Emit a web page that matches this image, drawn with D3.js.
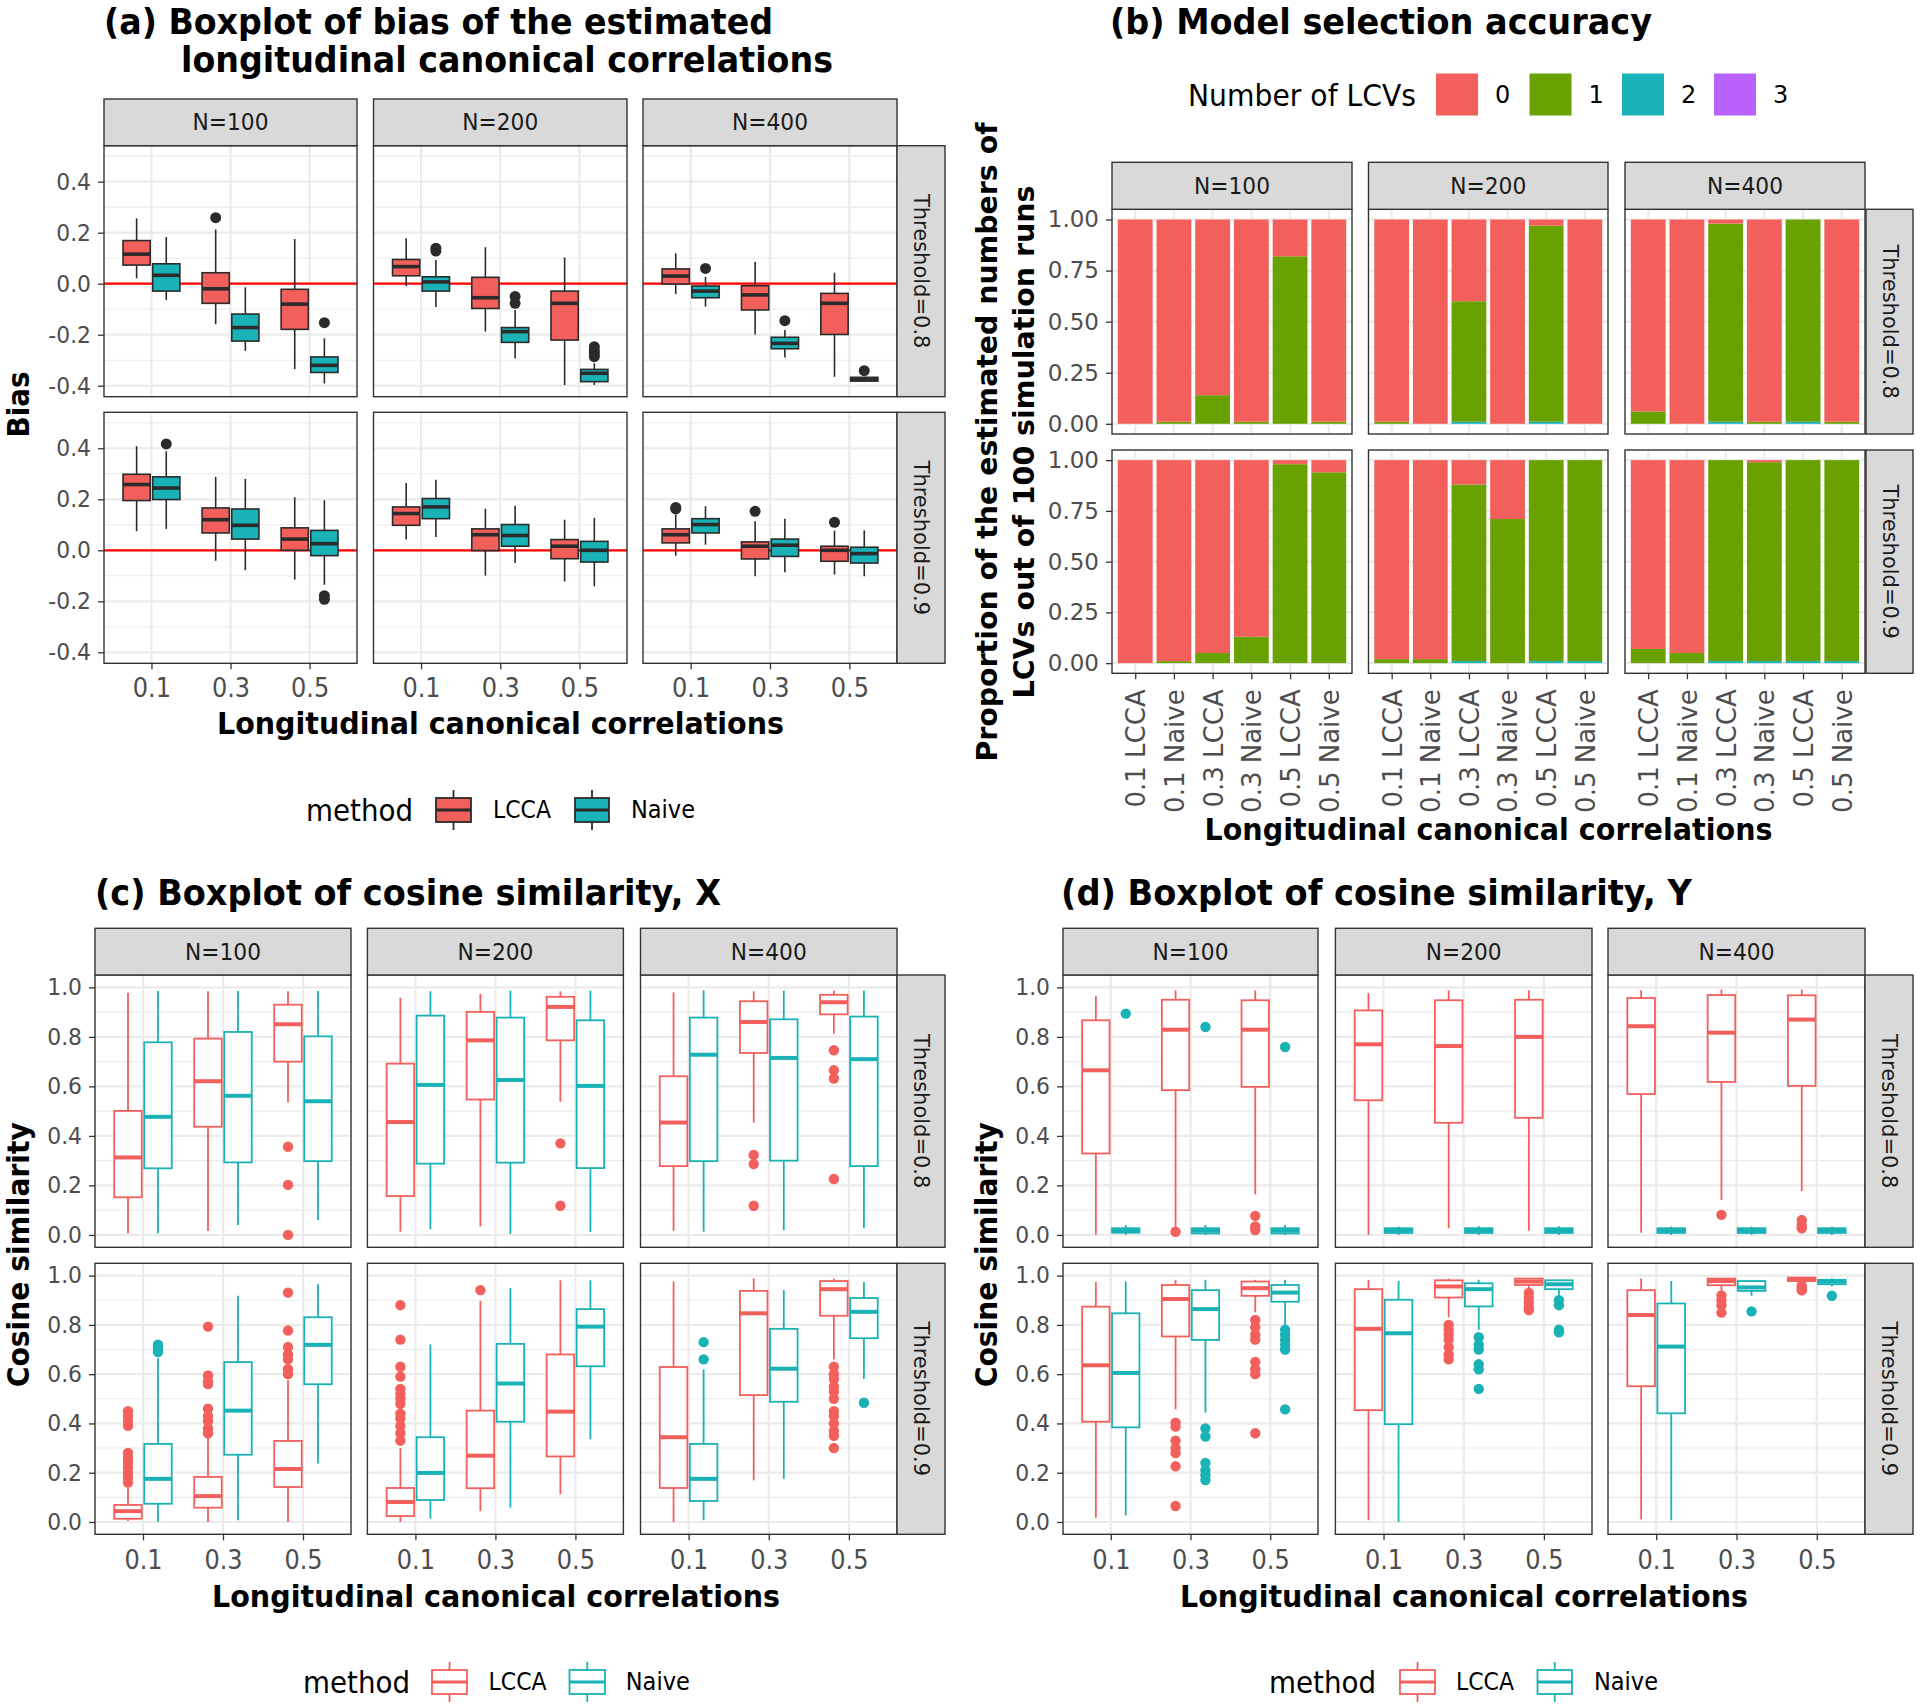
<!DOCTYPE html>
<html><head><meta charset="utf-8">
<script src="https://cdn.jsdelivr.net/npm/d3@7"></script>
<style>body{margin:0;background:#fff}</style>
</head><body><svg id="c" width="1920" height="1707" xmlns="http://www.w3.org/2000/svg"></svg>
<script>
// ---------------- DATA ----------------
const nLabels = ["N=100", "N=200", "N=400"];
const thrLabels = ["Threshold=0.8", "Threshold=0.9"];
const corrLabels = ["0.1", "0.3", "0.5"];
const methods = ["LCCA", "Naive"];
const lcvLevels = ["0", "1", "2", "3"];
const selCategories = ["0.1 LCCA", "0.1 Naive", "0.3 LCCA", "0.3 Naive", "0.5 LCCA", "0.5 Naive"];

const biasTicks = [-0.4, -0.2, 0, 0.2, 0.4];
const biasMinor = [-0.3, -0.1, 0.1, 0.3, 0.5];
const cosTicks = [0, 0.2, 0.4, 0.6, 0.8, 1.0];
const cosMinor = [0.1, 0.3, 0.5, 0.7, 0.9];
const propTicks = [0, 0.25, 0.5, 0.75, 1];
const propMinor = [0.125, 0.375, 0.625, 0.875];

// box stats: [lower whisker, Q1, median, Q3, upper whisker, outliers]
// per N (100, 200, 400): 0.1 LCCA, 0.1 Naive, 0.3 LCCA, 0.3 Naive, 0.5 LCCA, 0.5 Naive
const biasT08 = [
  [[0.021,0.073,0.116,0.169,0.256,[]], [-0.064,-0.029,0.033,0.078,0.183,[]], [-0.159,-0.077,-0.020,0.043,0.213,[0.259]],
   [-0.263,-0.225,-0.172,-0.119,-0.014,[]], [-0.335,-0.179,-0.080,-0.022,0.175,[]], [-0.391,-0.348,-0.320,-0.287,-0.214,[-0.153]]],
  [[-0.009,0.031,0.067,0.095,0.178,[]], [-0.091,-0.029,0.007,0.027,0.093,[0.128,0.139]], [-0.188,-0.097,-0.055,0.025,0.143,[]],
   [-0.293,-0.230,-0.188,-0.172,-0.103,[-0.077,-0.050]], [-0.397,-0.221,-0.077,-0.029,0.103,[]], [-0.397,-0.384,-0.351,-0.336,-0.312,[-0.247,-0.262,-0.275,-0.286]]],
  [[-0.040,-0.001,0.030,0.058,0.119,[]], [-0.090,-0.055,-0.029,-0.009,0.027,[0.060]], [-0.199,-0.103,-0.044,-0.008,0.086,[]],
   [-0.289,-0.255,-0.234,-0.210,-0.182,[-0.145]], [-0.365,-0.199,-0.077,-0.038,0.043,[]], [-0.384,-0.382,-0.374,-0.367,-0.365,[-0.341]]]
];
const biasT09 = [
  [[0.075,0.195,0.258,0.298,0.408,[]], [0.084,0.199,0.244,0.288,0.388,[0.417]], [-0.041,0.068,0.120,0.166,0.288,[]],
   [-0.078,0.044,0.098,0.162,0.280,[]], [-0.115,0.000,0.044,0.088,0.208,[]], [-0.135,-0.021,0.026,0.078,0.196,[-0.178,-0.192]]],
  [[0.042,0.098,0.144,0.170,0.264,[]], [0.052,0.124,0.170,0.203,0.277,[]], [-0.099,-0.001,0.061,0.084,0.163,[]],
   [-0.050,0.016,0.058,0.101,0.175,[]], [-0.122,-0.033,0.016,0.042,0.120,[]], [-0.141,-0.046,0.000,0.035,0.127,[]]],
  [[-0.021,0.029,0.061,0.084,0.140,[0.162,0.168]], [0.022,0.068,0.101,0.124,0.173,[]], [-0.102,-0.034,0.016,0.033,0.114,[0.153]],
   [-0.086,-0.024,0.020,0.044,0.124,[]], [-0.095,-0.043,0.000,0.016,0.077,[0.110]], [-0.102,-0.050,-0.013,0.012,0.078,[]]]
];

const cosXT08 = [
  [[0.007,0.152,0.313,0.501,0.978,[]], [0.007,0.269,0.477,0.778,0.985,[]], [0.016,0.437,0.621,0.793,0.984,[]],
   [0.040,0.293,0.562,0.820,0.985,[]], [0.535,0.700,0.851,0.930,0.984,[0.356,0.202,0.000]], [0.060,0.298,0.540,0.802,0.985,[]]],
  [[0.013,0.157,0.456,0.692,0.958,[]], [0.023,0.288,0.606,0.886,0.984,[]], [0.034,0.547,0.786,0.901,0.974,[]],
   [0.004,0.292,0.626,0.878,0.987,[]], [0.538,0.786,0.921,0.962,0.984,[0.370,0.118]], [0.012,0.270,0.602,0.867,0.987,[]]],
  [[0.017,0.278,0.454,0.641,0.980,[]], [0.013,0.298,0.728,0.878,0.988,[]], [0.454,0.735,0.860,0.944,0.984,[0.323,0.286,0.118]],
   [0.019,0.300,0.715,0.871,0.987,[]], [0.813,0.891,0.940,0.970,0.987,[0.746,0.665,0.632,0.226]], [0.027,0.278,0.710,0.882,0.987,[]]]
];
const cosXT09 = [
  [[0.004,0.013,0.044,0.069,0.140,[0.45,0.43,0.41,0.39,0.28,0.26,0.24,0.22,0.20,0.18,0.16]],
   [0.000,0.074,0.175,0.317,0.665,[0.69,0.70,0.71,0.72]],
   [0.000,0.058,0.105,0.183,0.350,[0.793,0.595,0.57,0.56,0.46,0.43,0.41,0.38,0.36]],
   [0.007,0.273,0.452,0.649,0.918,[]],
   [0.000,0.142,0.215,0.329,0.575,[0.931,0.777,0.71,0.68,0.66,0.62,0.60]],
   [0.237,0.559,0.719,0.831,0.965,[]]],
  [[0.000,0.024,0.081,0.138,0.300,[0.33,0.36,0.39,0.42,0.44,0.48,0.50,0.52,0.54,0.59,0.63,0.74,0.88]],
   [0.013,0.089,0.199,0.344,0.720,[]],
   [0.044,0.137,0.269,0.452,0.898,[0.941]],
   [0.058,0.407,0.562,0.723,0.949,[]],
   [0.112,0.266,0.448,0.680,0.981,[]],
   [0.336,0.632,0.793,0.864,0.981,[]]],
  [[0.000,0.138,0.344,0.629,0.976,[]],
   [0.007,0.085,0.175,0.317,0.620,[0.66,0.73]],
   [0.169,0.515,0.847,0.938,0.989,[]],
   [0.175,0.488,0.622,0.784,0.941,[]],
   [0.660,0.837,0.945,0.978,0.988,[0.63,0.60,0.58,0.55,0.53,0.50,0.45,0.43,0.40,0.37,0.35,0.30]],
   [0.580,0.746,0.853,0.909,0.974,[0.484]]]
];

const cosYT08 = [
  [[0.000,0.329,0.665,0.867,0.965,[]], [0.000,0.009,0.019,0.027,0.040,[0.894]], [0.030,0.585,0.829,0.950,0.988,[0.013]],
   [0.000,0.006,0.017,0.027,0.040,[0.840]], [0.164,0.598,0.829,0.948,0.988,[0.077,0.034,0.020]], [0.000,0.006,0.017,0.027,0.040,[0.759]]],
  [[0.000,0.544,0.770,0.907,0.977,[]], [0.000,0.008,0.017,0.027,0.034,[]], [0.027,0.453,0.763,0.948,0.988,[]],
   [0.000,0.008,0.018,0.027,0.035,[]], [0.017,0.473,0.800,0.950,0.988,[]], [0.000,0.008,0.018,0.027,0.035,[]]],
  [[0.009,0.569,0.843,0.957,0.988,[]], [0.000,0.008,0.018,0.027,0.034,[]], [0.141,0.618,0.817,0.969,0.991,[0.081]],
   [0.000,0.008,0.018,0.027,0.034,[]], [0.177,0.602,0.870,0.968,0.991,[0.060,0.038,0.027]], [0.000,0.008,0.018,0.027,0.034,[]]]
];
const cosYT09 = [
  [[0.017,0.407,0.636,0.874,0.974,[]],
   [0.027,0.384,0.605,0.847,0.976,[]],
   [0.457,0.753,0.905,0.962,0.983,[0.403,0.387,0.33,0.30,0.28,0.226,0.065]],
   [0.444,0.739,0.864,0.941,0.983,[0.38,0.347,0.24,0.21,0.19,0.17]],
   [0.851,0.918,0.949,0.976,0.983,[0.82,0.79,0.76,0.74,0.65,0.62,0.60,0.36]],
   [0.797,0.894,0.931,0.962,0.983,[0.78,0.76,0.74,0.72,0.70,0.457]]],
  [[0.007,0.454,0.784,0.945,0.983,[]],
   [0.000,0.397,0.766,0.902,0.978,[]],
   [0.831,0.911,0.956,0.981,0.988,[0.80,0.78,0.76,0.74,0.71,0.68,0.66]],
   [0.780,0.875,0.945,0.969,0.983,[0.75,0.72,0.70,0.64,0.62,0.54]],
   [0.945,0.962,0.976,0.988,0.988,[0.93,0.91,0.89,0.87,0.86]],
   [0.918,0.945,0.965,0.981,0.983,[0.90,0.88,0.78,0.77]]],
  [[0.011,0.551,0.840,0.941,0.988,[]],
   [0.007,0.441,0.712,0.887,0.978,[]],
   [0.938,0.961,0.978,0.988,0.990,[0.92,0.90,0.88,0.85]],
   [0.918,0.938,0.952,0.978,0.983,[0.855]],
   [0.972,0.978,0.985,0.992,0.993,[0.96,0.95,0.94]],
   [0.956,0.965,0.976,0.983,0.989,[0.918]]]
];

// model selection: number of runs (out of 100) choosing 0,1,2,3 LCVs; per N: bars in selCategories order
const selT08 = [
  [[100,0,0,0], [99,1,0,0], [86,14,0,0], [99,1,0,0], [18,82,0,0], [99,1,0,0]],
  [[99,1,0,0], [100,0,0,0], [40,59,1,0], [100,0,0,0], [3,96,1,0], [100,0,0,0]],
  [[94,6,0,0], [100,0,0,0], [2,97,1,0], [99,1,0,0], [0,99,1,0], [99,1,0,0]]
];
const selT09 = [
  [[100,0,0,0], [99,1,0,0], [95,5,0,0], [87,13,0,0], [2,98,0,0], [6,94,0,0]],
  [[98,2,0,0], [98,2,0,0], [12,87,1,0], [29,71,0,0], [0,99,1,0], [0,99,1,0]],
  [[93,7,0,0], [95,5,0,0], [0,99,1,0], [1,98,1,0], [0,99,1,0], [0,99,1,0]]
];

// ---------------- STYLE ----------------
const FONT = "'DejaVu Sans', Verdana, sans-serif";
const methodColors = ["#F35F5B", "#19B2B6"];
const lcvColors = ["#F35F5B", "#69A100", "#19B2B6", "#B862FB"];
const DARK = "#2B2B2B", BORDER = "#333333", GRID = "#EBEBEB", STRIP = "#D9D9D9";
const svg = d3.select("#c");

function label(parent, s, x, y, o = {}) {
  const t = parent.append("text").attr("x", x).attr("y", y).text(s)
    .attr("font-family", o.family || FONT).attr("font-size", o.size || 22)
    .attr("fill", o.fill || "#000");
  if (o.weight) t.attr("font-weight", o.weight);
  if (o.anchor) t.attr("text-anchor", o.anchor);
  if (o.baseline) t.attr("dominant-baseline", o.baseline);
  if (o.len) t.attr("textLength", o.len).attr("lengthAdjust", "spacingAndGlyphs");
  if (o.rotate) t.attr("transform", `rotate(${o.rotate},${x},${y})`);
  return t;
}
function condense(sel, f) {
  sel.each(function () {
    const w = this.getComputedTextLength();
    d3.select(this).attr("textLength", w * f).attr("lengthAdjust", "spacingAndGlyphs");
  });
}

function facetGrid(L, cats, yDomain, yMajor, yMinor, yFmt, cell, opt = {}) {
  const g = svg.append("g");
  const nR = L.rows.length;
  L.rows.forEach((r, ri) => {
    const y = d3.scaleLinear().domain(yDomain).range([r[1], r[0]]);
    L.cols.forEach((c, ci) => {
      const x = d3.scalePoint().domain(cats).range(c).padding(0.6);
      const pg = g.append("g");
      pg.append("rect").attr("x", c[0]).attr("y", r[0]).attr("width", c[1] - c[0]).attr("height", r[1] - r[0]).attr("fill", "#fff");
      yMinor.forEach(v => pg.append("line").attr("x1", c[0]).attr("x2", c[1]).attr("y1", y(v)).attr("y2", y(v))
        .attr("stroke", GRID).attr("stroke-width", 1.1));
      yMajor.forEach(v => pg.append("line").attr("x1", c[0]).attr("x2", c[1]).attr("y1", y(v)).attr("y2", y(v))
        .attr("stroke", GRID).attr("stroke-width", 2.2));
      cats.forEach(k => pg.append("line").attr("x1", x(k)).attr("x2", x(k)).attr("y1", r[0]).attr("y2", r[1])
        .attr("stroke", GRID).attr("stroke-width", 2.2));
      cell(pg, x, y, ri, ci);
      pg.append("rect").attr("x", c[0]).attr("y", r[0]).attr("width", c[1] - c[0]).attr("height", r[1] - r[0])
        .attr("fill", "none").attr("stroke", BORDER).attr("stroke-width", 1.4);
      if (ci === 0) {
        const ax = g.append("g").attr("transform", `translate(${c[0]},0)`)
          .call(d3.axisLeft(y).tickValues(yMajor).tickFormat(yFmt).tickSize(6).tickPadding(7));
        ax.select(".domain").remove();
        ax.selectAll("line").attr("stroke", BORDER).attr("stroke-width", 1.3);
        const ty = ax.selectAll("text").attr("font-family", FONT).attr("font-size", 23).attr("fill", "#4D4D4D");
        condense(ty, opt.yCond || 0.95);
      }
      if (ri === nR - 1) {
        const ax = g.append("g").attr("transform", `translate(0,${r[1]})`)
          .call(d3.axisBottom(x).tickSize(6).tickPadding(opt.xPad || 9).tickFormat(opt.xFmt || (d => d)));
        ax.select(".domain").remove();
        ax.selectAll("line").attr("stroke", BORDER).attr("stroke-width", 1.3);
        const tx = ax.selectAll("text").attr("font-family", FONT).attr("font-size", opt.xSize || 27).attr("fill", "#4D4D4D");
        if (opt.rotX) {
          tx.attr("transform", "rotate(-90)").attr("text-anchor", "end")
            .attr("x", -(6 + (opt.xPad || 9))).attr("y", 0).attr("dy", "0.36em");
        } else {
          condense(tx, 0.89);
        }
      }
    });
    // right strip
    g.append("rect").attr("x", L.stripRight[0]).attr("y", r[0]).attr("width", L.stripRight[1] - L.stripRight[0])
      .attr("height", r[1] - r[0]).attr("fill", STRIP).attr("stroke", BORDER).attr("stroke-width", 1.4);
    label(g, thrLabels[ri], (L.stripRight[0] + L.stripRight[1]) / 2, (r[0] + r[1]) / 2,
      { size: 21, fill: "#1A1A1A", anchor: "middle", baseline: "central", rotate: 90 });
  });
  L.cols.forEach((c, ci) => {
    g.append("rect").attr("x", c[0]).attr("y", L.stripTop).attr("width", c[1] - c[0]).attr("height", L.rows[0][0] - L.stripTop)
      .attr("fill", STRIP).attr("stroke", BORDER).attr("stroke-width", 1.4);
    label(g, nLabels[ci], (c[0] + c[1]) / 2, (L.stripTop + L.rows[0][0]) / 2,
      { size: 23, fill: "#1A1A1A", anchor: "middle", baseline: "central", len: 76 });
  });
}

function boxCell(dataRows, filled, zeroLine) {
  return (pg, x, y, ri, ci) => {
    if (zeroLine) {
      pg.append("line").attr("x1", x.range()[0]).attr("x2", x.range()[1]).attr("y1", y(0)).attr("y2", y(0))
        .attr("stroke", "#FF0000").attr("stroke-width", 2.3);
    }
    const set = dataRows[ri][ci];
    const step = x.step();
    set.forEach((b, i) => {
      const k = corrLabels[Math.floor(i / 2)], mi = i % 2;
      const cx = x(k) + (mi ? 0.1875 : -0.1875) * step;
      const hw = 0.172 * step;
      const col = methodColors[mi];
      const lc = filled ? DARK : col;
      const lw = filled ? 1.6 : 1.8;
      pg.append("line").attr("x1", cx).attr("x2", cx).attr("y1", y(b[0])).attr("y2", y(b[1])).attr("stroke", lc).attr("stroke-width", lw);
      pg.append("line").attr("x1", cx).attr("x2", cx).attr("y1", y(b[3])).attr("y2", y(b[4])).attr("stroke", lc).attr("stroke-width", lw);
      pg.append("rect").attr("x", cx - hw).attr("y", y(b[3])).attr("width", 2 * hw).attr("height", Math.max(0.5, y(b[1]) - y(b[3])))
        .attr("fill", filled ? col : "#fff").attr("stroke", lc).attr("stroke-width", lw);
      pg.append("line").attr("x1", cx - hw).attr("x2", cx + hw).attr("y1", y(b[2])).attr("y2", y(b[2]))
        .attr("stroke", lc).attr("stroke-width", filled ? 3.6 : 4);
      b[5].forEach(o => pg.append("circle").attr("cx", cx).attr("cy", y(o)).attr("r", filled ? 5.5 : 5.2)
        .attr("fill", filled ? DARK : col));
    });
  };
}

function barCell(dataRows) {
  const stack = d3.stack().keys([3, 2, 1, 0]).value((d, key) => d[key] / 100);
  return (pg, x, y, ri, ci) => {
    const set = dataRows[ri][ci];
    const series = stack(set);
    const bw = 0.9 * x.step();
    series.forEach(s => {
      s.forEach((seg, i) => {
        const h = y(seg[0]) - y(seg[1]);
        if (h <= 0) return;
        pg.append("rect").attr("x", x(selCategories[i]) - bw / 2).attr("y", y(seg[1]))
          .attr("width", bw).attr("height", h).attr("fill", lcvColors[s.key]);
      });
    });
  };
}

function boxLegend(titleX, yc, keyX, labX, filled) {
  const g = svg.append("g");
  label(g, "method", titleX, yc, { size: 30, baseline: "central", len: 107 });
  methods.forEach((m, mi) => {
    const [x0, x1] = keyX[mi];
    const cx = (x0 + x1) / 2, col = methodColors[mi], lc = filled ? DARK : col;
    g.append("line").attr("x1", cx).attr("x2", cx).attr("y1", yc - 20).attr("y2", yc + 20).attr("stroke", lc).attr("stroke-width", 1.8);
    g.append("rect").attr("x", x0).attr("y", yc - 12).attr("width", x1 - x0).attr("height", 24)
      .attr("fill", filled ? col : "#fff").attr("stroke", lc).attr("stroke-width", 1.8);
    g.append("line").attr("x1", x0).attr("x2", x1).attr("y1", yc).attr("y2", yc).attr("stroke", lc).attr("stroke-width", 3.2);
    label(g, m, labX[mi], yc, { size: 24, baseline: "central", len: mi ? 64 : 58 });
  });
}

// ---------------- PANEL (a) ----------------
const fmt1 = d => d.toFixed(1);
facetGrid({ cols: [[104, 357], [373.5, 627], [643, 897]], rows: [[145.7, 396.7], [412.3, 663.3]], stripTop: 99, stripRight: [897, 945] },
  corrLabels, [-0.443, 0.541], biasTicks, biasMinor, fmt1, boxCell([biasT08, biasT09], true, true), { xPad: 9 });
label(svg, "(a) Boxplot of bias of the estimated", 104, 34, { size: 35, weight: "bold", len: 669 });
label(svg, "longitudinal canonical correlations", 181, 72, { size: 35, weight: "bold", len: 652 });
label(svg, "Longitudinal canonical correlations", 500.5, 734, { size: 30, weight: "bold", anchor: "middle", len: 567 });
label(svg, "Bias", 18, 404.5, { size: 30, weight: "bold", anchor: "middle", baseline: "central", rotate: -90, len: 66 });
boxLegend(306, 810, [[436, 471], [575, 609]], [493, 631], true);

// ---------------- PANEL (b) ----------------
facetGrid({ cols: [[1112, 1352], [1368.5, 1608], [1625, 1865]], rows: [[209.3, 434], [450, 673.3]], stripTop: 162.3, stripRight: [1866, 1913] },
  selCategories, [-0.05, 1.05], propTicks, propMinor, d => d.toFixed(2), barCell([selT08, selT09]), { rotX: true, xPad: 10, xSize: 26, yCond: 1.0 });
label(svg, "(b) Model selection accuracy", 1110, 33.5, { size: 35, weight: "bold", len: 542 });
label(svg, "Longitudinal canonical correlations", 1488.5, 840, { size: 30, weight: "bold", anchor: "middle", len: 568 });
label(svg, "Proportion of the estimated numbers of", 987, 442, { size: 29, weight: "bold", anchor: "middle", baseline: "central", rotate: -90, len: 639 });
label(svg, "LCVs out of 100 simulation runs", 1024, 442, { size: 29, weight: "bold", anchor: "middle", baseline: "central", rotate: -90, len: 513 });
(function () {
  const g = svg.append("g");
  label(g, "Number of LCVs", 1188, 95, { size: 30, baseline: "central", len: 228 });
  const keyX = [1436, 1529.5, 1622, 1714];
  lcvLevels.forEach((lv, i) => {
    g.append("rect").attr("x", keyX[i]).attr("y", 73.5).attr("width", 42).attr("height", 42).attr("fill", lcvColors[i]);
    label(g, lv, keyX[i] + 59, 95, { size: 24, baseline: "central" });
  });
})();

// ---------------- PANEL (c) ----------------
facetGrid({ cols: [[95, 351], [367.4, 623.4], [640.5, 897]], rows: [[975, 1247.3], [1263.3, 1534.3]], stripTop: 928.3, stripRight: [897, 945] },
  corrLabels, [-0.05, 1.05], cosTicks, cosMinor, fmt1, boxCell([cosXT08, cosXT09], false, false), { xPad: 10 });
label(svg, "(c) Boxplot of cosine similarity, X", 95, 905, { size: 35, weight: "bold", len: 626 });
label(svg, "Longitudinal canonical correlations", 496, 1607, { size: 30, weight: "bold", anchor: "middle", len: 568 });
label(svg, "Cosine similarity", 19, 1254.7, { size: 30, weight: "bold", anchor: "middle", baseline: "central", rotate: -90, len: 265 });
boxLegend(303, 1682, [[432, 467], [569.5, 605]], [488.6, 625.8], false);

// ---------------- PANEL (d) ----------------
facetGrid({ cols: [[1063, 1318], [1335.4, 1592], [1608, 1865]], rows: [[975, 1247.3], [1263.3, 1534.3]], stripTop: 928.3, stripRight: [1865, 1913] },
  corrLabels, [-0.05, 1.05], cosTicks, cosMinor, fmt1, boxCell([cosYT08, cosYT09], false, false), { xPad: 10 });
label(svg, "(d) Boxplot of cosine similarity, Y", 1061, 905, { size: 35, weight: "bold", len: 631 });
label(svg, "Longitudinal canonical correlations", 1464, 1607, { size: 30, weight: "bold", anchor: "middle", len: 568 });
label(svg, "Cosine similarity", 987, 1254.7, { size: 30, weight: "bold", anchor: "middle", baseline: "central", rotate: -90, len: 265 });
boxLegend(1269, 1682, [[1400, 1435], [1537.5, 1572]], [1456, 1594], false);
</script>
</body></html>
